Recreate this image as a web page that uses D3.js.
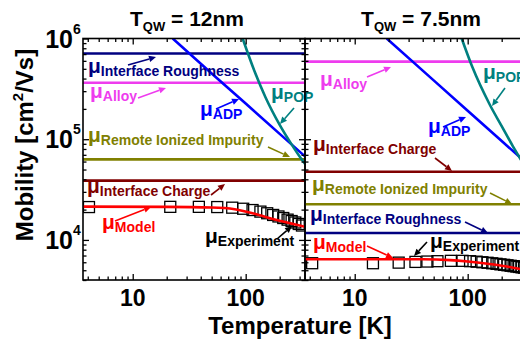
<!DOCTYPE html>
<html>
<head>
<meta charset="utf-8">
<script src="https://cdn.jsdelivr.net/npm/d3@7"></script>
<style>
  body { margin: 0; background: #fff; }
  svg { display: block; font-family: "Liberation Sans", Arial, sans-serif; font-weight: bold; }
</style>
</head>
<body>
<svg width="520" height="339"></svg>
<script>
// ---- data (T in K, mobility in cm^2/Vs) ----
const tDomain = [3.63, 335];
const muDomain = [4000, 1e6];

// T_QW = 12nm
const qw12Roughness = 7.1e5;
const qw12Alloy = 3.64e5;
const qw12Remote = 6.3e4;
const qw12Charge = 3.88e4;
const qw12AdpT = [22.6, 50, 100, 200, 335];
const qw12AdpMu = [1e6, 4.5e5, 2.26e5, 1.13e5, 6.75e4];
const qw12PopT = [94, 120, 150, 200, 250, 310, 335];
const qw12PopMu = [1e6, 4.7e5, 2.6e5, 1.39e5, 9.2e4, 6.4e4, 5.7e4];
const qw12ModelT = [3.63, 20, 50, 80, 120, 150, 200, 250, 335];
const qw12ModelMu = [2.14e4, 2.13e4, 2.1e4, 2.02e4, 1.82e4, 1.69e4, 1.55e4, 1.46e4, 1.35e4];
const qw12ExpT = [4.1, 21.5, 38.5, 56, 76, 95, 115, 135, 155, 175, 195, 215, 235, 255, 275, 295, 315];
const qw12ExpMu = [2.12e4, 2.13e4, 2.13e4, 2.12e4, 2.09e4, 2.04e4, 1.98e4, 1.91e4, 1.84e4, 1.77e4, 1.71e4, 1.65e4, 1.59e4, 1.54e4, 1.49e4, 1.44e4, 1.39e4];

// T_QW = 7.5nm
const qw75Roughness = 1.17e4;
const qw75Alloy = 5.9e5;
const qw75Remote = 2.26e4;
const qw75Charge = 4.76e4;
const qw75AdpT = [19.2, 50, 100, 200, 335];
const qw75AdpMu = [1e6, 3.84e5, 1.92e5, 9.6e4, 5.73e4];
const qw75PopT = [88.5, 110, 157, 200, 250, 290, 335];
const qw75PopMu = [1e6, 5.2e5, 2.2e5, 1.35e5, 8.6e4, 6.5e4, 4.9e4];
const qw75ModelT = [3.63, 40, 70, 100, 150, 200, 290, 335];
const qw75ModelMu = [6430, 6420, 6300, 6100, 5800, 5550, 5150, 5000];
const qw75ExpT = [4.2, 14.5, 24.5, 34.5, 44, 54, 71, 90, 105, 120, 135, 150, 165, 180, 195, 210, 225, 240, 255, 270, 285, 300, 315];
const qw75ExpMu = [5870, 5870, 5950, 6050, 6100, 6150, 6200, 6200, 6150, 6080, 6000, 5930, 5860, 5790, 5720, 5660, 5600, 5540, 5490, 5440, 5390, 5340, 5300];

const majorX = [10, 100];
const majorY = [1e4, 1e5, 1e6];

// ---- colours ----
const C = {
  rough: "#000080", alloy: "#ee3cee", adp: "#0000ff", pop: "#008080",
  remote: "#808000", charge: "#800000", model: "#ff0000", exp: "#000000"
};

const svg = d3.select("svg");
const plotTop = 38.5, plotBottom = 280;
const y = d3.scaleLog().domain(muDomain).range([plotBottom, plotTop]);

const panels = [
  {
    id: "p12", x0: 83, x1: 305, title: "= 12nm", titleX: 187,
    rough: qw12Roughness, alloy: qw12Alloy, remote: qw12Remote, charge: qw12Charge,
    adp: [qw12AdpT, qw12AdpMu], pop: [qw12PopT, qw12PopMu],
    model: [qw12ModelT, qw12ModelMu], exp: [qw12ExpT, qw12ExpMu],
    labels: [
      {sub: "Interface Roughness", c: C.rough, x: 88, y: 73, a: [128, 65, 156, 57]},
      {sub: "Alloy", c: C.alloy, x: 90, y: 98, a: [138, 98, 166, 88]},
      {sub: "ADP", c: C.adp, x: 200, y: 116, a: [216, 109, 239, 99]},
      {sub: "Remote Ionized Impurity", c: C.remote, x: 88, y: 142, a: [268, 147, 290, 157]},
      {sub: "POP", c: C.pop, x: 271, y: 99, a: [294, 108, 280, 124]},
      {sub: "Interface Charge", c: C.charge, x: 87, y: 193, a: [211, 195, 225, 184]},
      {sub: "Model", c: C.model, x: 102, y: 229, a: [115, 221, 151, 207]},
      {sub: "Experiment", c: C.exp, x: 205, y: 243, a: [277, 239, 292, 226]}
    ]
  },
  {
    id: "p75", x0: 305, x1: 527, title: "= 7.5nm", titleX: 421,
    rough: qw75Roughness, alloy: qw75Alloy, remote: qw75Remote, charge: qw75Charge,
    adp: [qw75AdpT, qw75AdpMu], pop: [qw75PopT, qw75PopMu],
    model: [qw75ModelT, qw75ModelMu], exp: [qw75ExpT, qw75ExpMu],
    labels: [
      {sub: "Alloy", c: C.alloy, x: 320, y: 86, a: [367, 77, 391, 67]},
      {sub: "POP", c: C.pop, x: 483, y: 79, a: [505, 88, 492, 106]},
      {sub: "ADP", c: C.adp, x: 428, y: 133, a: [443, 127, 466, 117]},
      {sub: "Interface Charge", c: C.charge, x: 313, y: 151, a: [435, 158, 452, 171]},
      {sub: "Remote Ionized Impurity", c: C.remote, x: 312, y: 191, a: [490, 193, 512, 204]},
      {sub: "Interface Roughness", c: C.rough, x: 310, y: 221, a: [465, 222, 488, 233]},
      {sub: "Model", c: C.model, x: 313, y: 249, a: [367, 246, 393, 258]},
      {sub: "Experiment", c: C.exp, x: 430, y: 248, a: [427, 242, 414, 256]}
    ]
  }
];

function arrow(g, [x1, y1, x2, y2], color) {
  const ang = Math.atan2(y2 - y1, x2 - x1);
  const L = 7, W = 3.2;
  const bx = x2 - L * Math.cos(ang), by = y2 - L * Math.sin(ang);
  g.append("line")
    .attr("x1", x1).attr("y1", y1).attr("x2", bx).attr("y2", by)
    .attr("stroke", color).attr("stroke-width", 1.6);
  const px = -Math.sin(ang) * W, py = Math.cos(ang) * W;
  g.append("path")
    .attr("d", `M${x2},${y2}L${bx + px},${by + py}L${bx - px},${by - py}Z`)
    .attr("fill", color);
}

const line = (x) => d3.line().x(d => x(d[0])).y(d => y(d[1]));

panels.forEach(p => {
  const x = d3.scaleLog().domain(tDomain).range([p.x0, p.x1]);
  const g = svg.append("g");

  svg.append("clipPath").attr("id", "clip-" + p.id)
    .append("rect").attr("x", p.x0).attr("y", plotTop).attr("width", p.x1 - p.x0).attr("height", plotBottom - plotTop);
  const plot = g.append("g").attr("clip-path", `url(#clip-${p.id})`);

  // constant mechanisms
  [[p.rough, C.rough], [p.alloy, C.alloy], [p.remote, C.remote], [p.charge, C.charge]].forEach(([v, c]) => {
    plot.append("path")
      .attr("d", line(x)(tDomain.map(t => [t, v])))
      .attr("fill", "none").attr("stroke", c).attr("stroke-width", 2.6);
  });

  // experiment squares
  plot.selectAll("rect.exp").data(d3.zip(p.exp[0], p.exp[1])).join("rect")
    .attr("class", "exp")
    .attr("x", d => x(d[0]) - 5.5).attr("y", d => y(d[1]) - 5.5)
    .attr("width", 11).attr("height", 11)
    .attr("fill", "none").attr("stroke", "#000").attr("stroke-width", 1.3);

  // T dependent mechanisms
  [[p.adp, C.adp, d3.curveLinear], [p.pop, C.pop, d3.curveMonotoneX], [p.model, C.model, d3.curveMonotoneX]].forEach(([s, c, curve]) => {
    plot.append("path")
      .attr("d", line(x).curve(curve)(d3.zip(s[0], s[1])))
      .attr("fill", "none").attr("stroke", c).attr("stroke-width", 2.6);
  });

  // ticks (inward, on all four sides)
  const minorX = x.ticks().filter(v => !majorX.includes(v));
  const minorY = y.ticks().filter(v => !majorY.some(m => Math.abs(m - v) < 1e-6 * m));
  const axes = [
    [d3.axisBottom(x), `translate(0,${plotBottom})`, majorX, minorX],
    [d3.axisTop(x), `translate(0,${plotTop})`, majorX, minorX],
    [d3.axisLeft(y), `translate(${p.x0},0)`, majorY, minorY],
    [d3.axisRight(y), `translate(${p.x1},0)`, majorY, minorY]
  ];
  axes.forEach(([ax, tr, maj, min]) => {
    [[maj, -6], [min, -3.5]].forEach(([vals, len]) => {
      const a = g.append("g").attr("transform", tr)
        .call(ax.tickValues(vals).tickSize(len).tickFormat(""));
      a.select(".domain").remove();
      a.selectAll("line").attr("stroke-width", 1.3);
    });
  });

  g.append("rect")
    .attr("x", p.x0).attr("y", plotTop).attr("width", p.x1 - p.x0).attr("height", plotBottom - plotTop)
    .attr("fill", "none").attr("stroke", "#000").attr("stroke-width", 1.6);

  // x tick labels
  g.selectAll("text.xt").data(majorX).join("text")
    .attr("class", "xt")
    .attr("x", d => x(d)).attr("y", 306)
    .attr("text-anchor", "middle").attr("font-size", 23)
    .text(d => d);

  // title
  const tt = g.append("text").attr("x", p.titleX).attr("y", 26)
    .attr("text-anchor", "middle").attr("font-size", 21);
  tt.append("tspan").text("T");
  tt.append("tspan").attr("font-size", 13).attr("dy", 5).text("QW");
  tt.append("tspan").attr("dy", -5).text(" " + p.title);

  // curve labels
  p.labels.forEach(l => {
    const t = g.append("text").attr("x", l.x).attr("y", l.y).attr("fill", l.c);
    t.append("tspan").attr("font-size", 21).text("\u03bc");
    t.append("tspan").attr("font-size", 14).attr("dy", 3).text(l.sub);
    arrow(g, l.a, l.c);
  });
});

// y tick labels
majorY.forEach(v => {
  svg.append("text").attr("x", 73).attr("y", y(v) + 9)
    .attr("text-anchor", "end").attr("font-size", 25).text("10");
  svg.append("text").attr("x", 73).attr("y", y(v) - 5)
    .attr("font-size", 14).text(Math.round(Math.log10(v)));
});

// axis titles
svg.append("text")
  .attr("x", 300).attr("y", 334).attr("text-anchor", "middle").attr("font-size", 24)
  .text("Temperature [K]");
const yl = svg.append("text")
  .attr("transform", "translate(33,145) rotate(-90)")
  .attr("text-anchor", "middle").attr("font-size", 24);
yl.append("tspan").text("Mobility [cm");
yl.append("tspan").attr("font-size", 15).attr("dy", -10).text("2");
yl.append("tspan").attr("dy", 10).text("/Vs]");
</script>
</body>
</html>
